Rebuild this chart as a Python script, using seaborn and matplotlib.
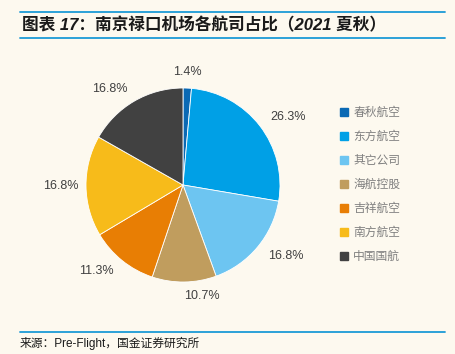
import matplotlib
matplotlib.use("Agg")
import matplotlib.pyplot as plt
import seaborn as sns
from matplotlib.lines import Line2D

airlines = ["春秋航空", "东方航空", "其它公司", "海航控股", "吉祥航空", "南方航空", "中国国航"]
shares = [1.4, 26.3, 16.8, 10.7, 11.3, 16.8, 16.8]
colors = ["#0A69B4", "#00A0E6", "#6DC5F1", "#C09D5E", "#E87E04", "#F7BB1A", "#414141"]

title = "图表 17：南京禄口机场各航司占比（2021 夏秋）"
source = "来源：Pre-Flight，国金证券研究所"

bg = "#FDF9EF"
line_c = "#1C9AD6"
latin_cjk = ["Liberation Sans", "Noto Sans CJK SC", "DejaVu Sans"]

sns.set_theme(style="white")
plt.rcParams["font.family"] = ["Noto Sans CJK SC", "DejaVu Sans"]

W, H = 455, 354
fig = plt.figure(figsize=(W / 100, H / 100), dpi=100, facecolor=bg)

# pie axes: centre (183,185) px, radius 97 px
r = 97
cx, cy = 183, 185
half = 1.25 * r
ax = fig.add_axes([(cx - half) / W, (H - cy - half) / H, 2 * half / W, 2 * half / H])
ax.set_facecolor(bg)

pal = sns.color_palette(colors)
wedges, texts = ax.pie(shares, colors=pal, startangle=90, counterclock=False,
                       labels=[f"{v:.1f}%" for v in shares], labeldistance=1.14,
                       wedgeprops=dict(linewidth=0.6, edgecolor="white"),
                       textprops=dict(fontsize=9, color="#404040", family=latin_cjk))
texts[0].set_ha("center")
x0, y0 = texts[0].get_position()
texts[0].set_position((x0, y0 + 0.03))
x5, y5 = texts[5].get_position()
texts[5].set_position((x5 + 0.06, y5))

handles = [Line2D([0], [0], marker="s", linestyle="", markersize=5.5,
                  markerfacecolor=c, markeredgecolor=c) for c in colors]
leg = fig.legend(handles, airlines, loc="upper left",
                 bbox_to_anchor=(339 / W, 1 - 106 / H), frameon=False,
                 handlelength=0.8, handletextpad=0.4, labelspacing=0.93,
                 fontsize=8.5, borderpad=0, borderaxespad=0)
for t in leg.get_texts():
    t.set_color("#7F7F7F")

# header / footer rules
for y in (12, 38, 332):
    fig.add_artist(Line2D([20 / W, 445 / W], [1 - y / H, 1 - y / H],
                          color=line_c, linewidth=1.3))

fig.text(22 / W, 1 - 25 / H, title, fontsize=12, fontweight="bold",
         style="italic", color="#1A1A1A", va="center", ha="left", family=latin_cjk)
fig.text(20 / W, 1 - 343 / H, source, fontsize=8.5, color="#1A1A1A",
         va="center", ha="left", family=latin_cjk)

fig.savefig("out.png", dpi=100, facecolor=bg)
